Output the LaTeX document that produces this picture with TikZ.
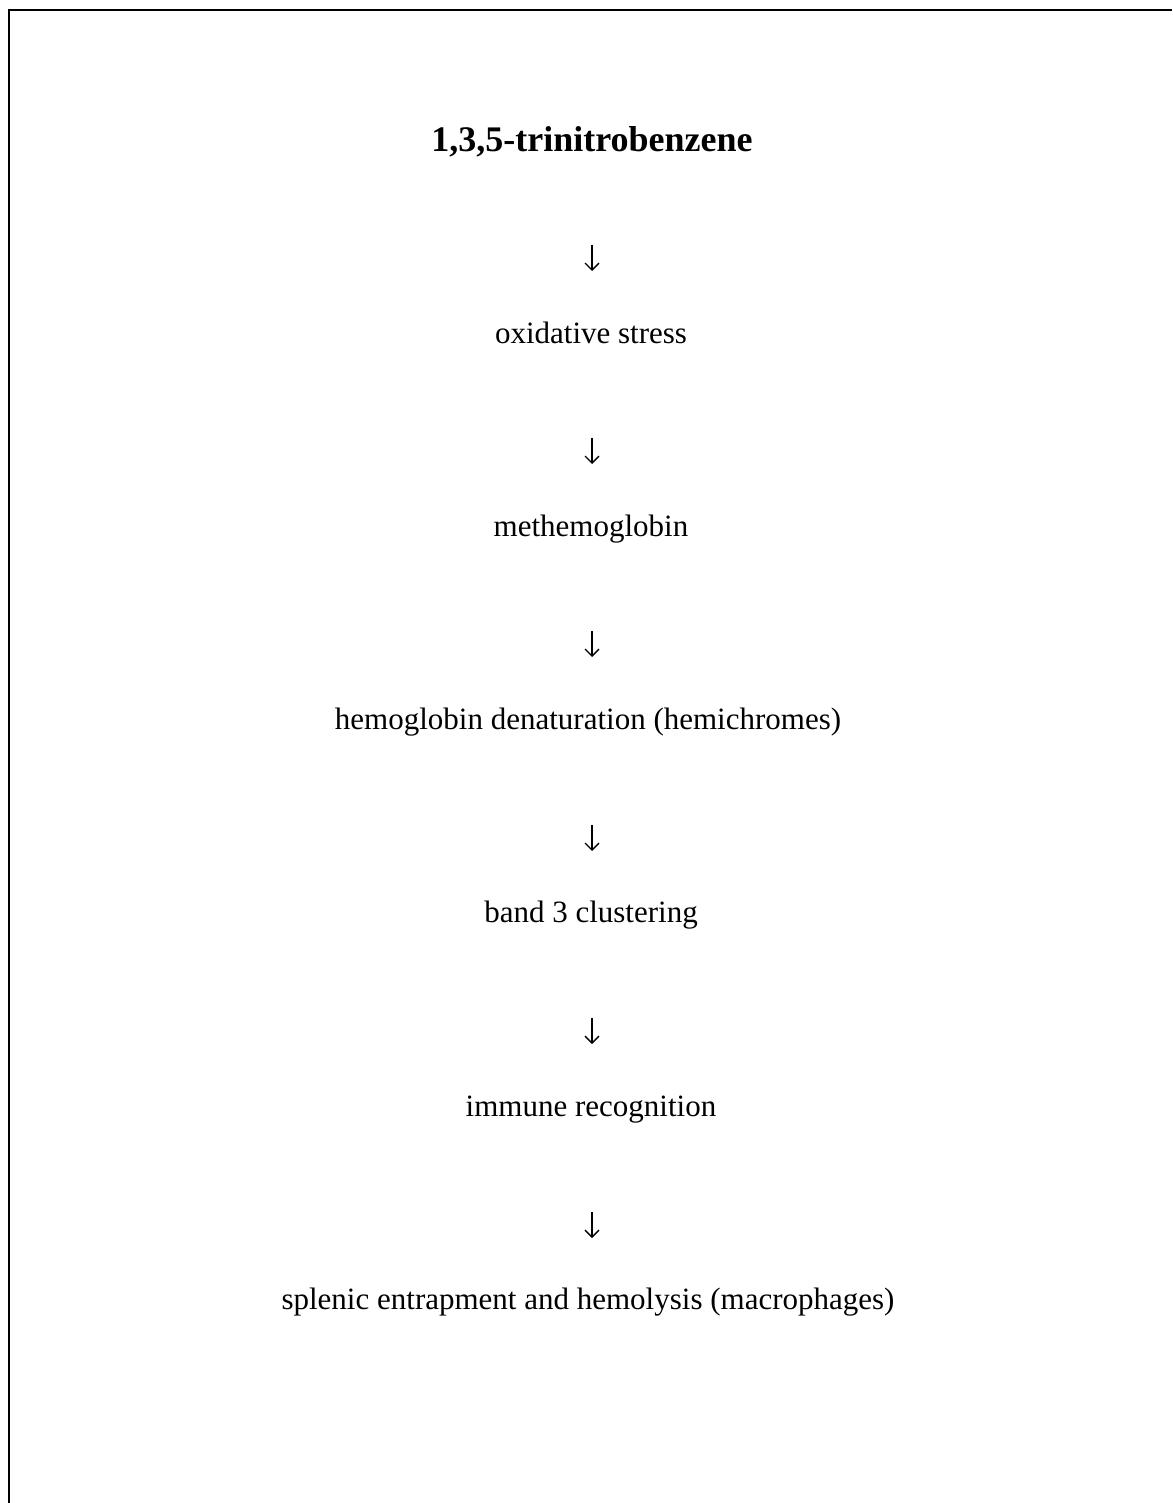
\documentclass[tikz,border=0pt]{standalone}
\usepackage{fontspec}
\setmainfont{Liberation Serif}
\usetikzlibrary{arrows.meta}
\begin{document}
\begin{tikzpicture}[x=1pt,y=-1pt,
  frame/.style={line width=2pt},
  title/.style={anchor=base,inner sep=0pt,font=\fontsize{36}{42}\selectfont\bfseries},
  txt/.style={anchor=base,inner sep=0pt,font=\fontsize{31}{37}\selectfont},
  arr/.style={line width=1.3pt,-{Straight Barb[length=7pt,width=14pt,line width=1.3pt]}}]
\useasboundingbox (0,0) rectangle (1172,1503);
\draw[frame] (9,1503) -- (9,10) -- (1172,10);
\node[title] (t) at (592,152) {1,3,5-trinitrobenzene};
\node[txt] (n1) at (591,343) {oxidative stress};
\node[txt] (n2) at (591,536) {methemoglobin};
\node[txt] (n3) at (588,729) {hemoglobin denaturation (hemichromes)};
\node[txt] (n4) at (591,922) {band 3 clustering};
\node[txt] (n5) at (591,1116) {immune recognition};
\node[txt] (n6) at (588,1309) {splenic entrapment and hemolysis (macrophages)};
\foreach \i/\y in {1/245,2/438,3/631,4/825,5/1018,6/1212}{
  \coordinate (a\i s) at (592,\y);
  \coordinate (a\i e) at (592,\y+26);
  \draw[arr] (a\i s) -- (a\i e);
}
\end{tikzpicture}
\end{document}
